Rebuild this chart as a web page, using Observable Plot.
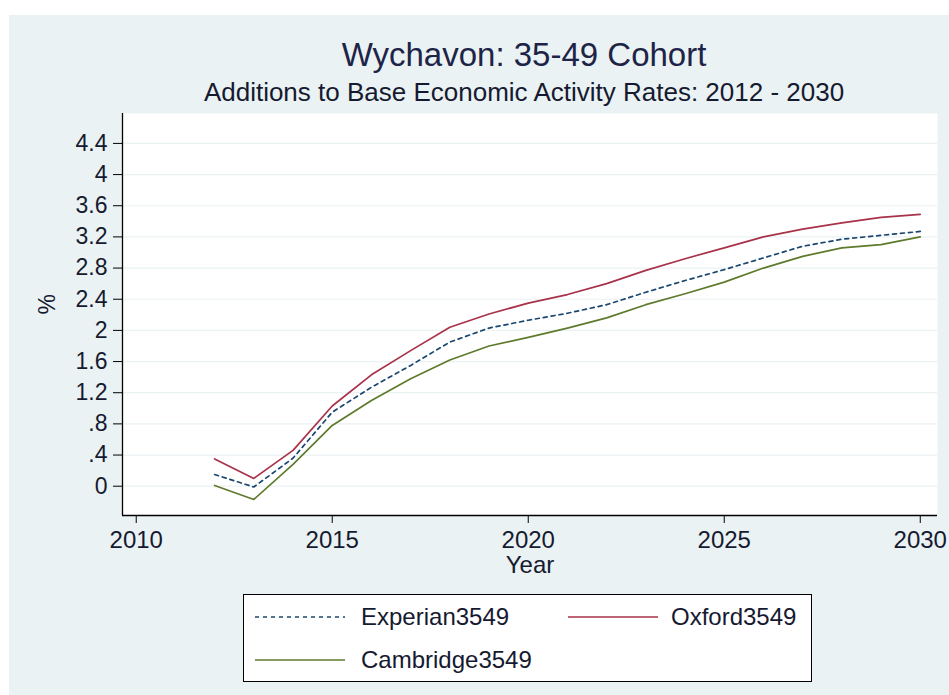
<!DOCTYPE html>
<html>
<head>
<meta charset="utf-8">
<script src="https://cdn.jsdelivr.net/npm/d3@7"></script>
<script src="https://cdn.jsdelivr.net/npm/@observablehq/plot@0.6"></script>
<style>
  html, body { margin: 0; padding: 0; background: #ffffff; }
  body { width: 949px; height: 695px; position: relative; overflow: hidden; font-family: "Liberation Sans", Arial, sans-serif; }
  #panel { position: absolute; left: 9px; top: 15px; width: 940px; height: 680px; background: #eaf2f3; }
  .ttl { position: absolute; text-align: center; color: #1e2448; white-space: nowrap; line-height: 1.15; }
  #title { top: 36px; left: 0; width: 1048px; font-size: 33px; }
  #subtitle { top: 78px; left: 0; width: 1048px; font-size: 26px; color: #161a30; }
  #chart { position: absolute; left: 0; top: 100px; }
  #legend { position: absolute; left: 243px; top: 594px; width: 567px; height: 86px; background: #fff; border: 1px solid #000; }
  .lg { position: absolute; font-size: 24px; color: #161a30; white-space: nowrap; line-height: 1.15; }
  .ls { position: absolute; }
</style>
</head>
<body>
<div id="panel"></div>
<div id="title" class="ttl">Wychavon: 35-49 Cohort</div>
<div id="subtitle" class="ttl">Additions to Base Economic Activity Rates: 2012 - 2030</div>
<div id="chart"></div>
<div id="legend"></div>
<script>
const years = [2012, 2013, 2014, 2015, 2016, 2017, 2018, 2019, 2020, 2021, 2022, 2023, 2024, 2025, 2026, 2027, 2028, 2029, 2030];
const experian3549 = [0.15, -0.01, 0.36, 0.95, 1.27, 1.55, 1.85, 2.03, 2.13, 2.22, 2.33, 2.49, 2.64, 2.78, 2.93, 3.08, 3.17, 3.22, 3.27];
const oxford3549 = [0.35, 0.10, 0.46, 1.03, 1.43, 1.74, 2.04, 2.21, 2.35, 2.46, 2.60, 2.77, 2.92, 3.06, 3.20, 3.30, 3.38, 3.45, 3.49];
const cambridge3549 = [0.01, -0.17, 0.28, 0.78, 1.10, 1.38, 1.62, 1.80, 1.91, 2.03, 2.16, 2.33, 2.47, 2.62, 2.80, 2.95, 3.06, 3.10, 3.20];
const seriesNames = ["Experian3549", "Oxford3549", "Cambridge3549"];
const seriesColors = ["#1a476f", "#a8324a", "#5f7a2c"];
const seriesDash = ["4,4", null, null];
const xTicks = [2010, 2015, 2020, 2025, 2030];
const yTicks = [0, 0.4, 0.8, 1.2, 1.6, 2, 2.4, 2.8, 3.2, 3.6, 4, 4.4];
const yTickLabels = ["0", ".4", ".8", "1.2", "1.6", "2", "2.4", "2.8", "3.2", "3.6", "4", "4.4"];

const seriesValues = [experian3549, oxford3549, cambridge3549];
const rows = [];
seriesNames.forEach((name, s) => years.forEach((yr, i) => rows.push({series: name, year: yr, value: seriesValues[s][i]})));

const xDomain = [2009.65, 2030.44];
const yDomain = [-0.376, 4.784];
const textColor = "#161a30";

const lineMarks = seriesNames.map((name, s) =>
  Plot.line(rows.filter(r => r.series === name), {
    x: "year", y: "value", stroke: seriesColors[s], strokeWidth: 1.7,
    strokeDasharray: seriesDash[s] || undefined
  })
);

const chart = Plot.plot({
  width: 949,
  height: 490,
  marginLeft: 122,
  marginRight: 12,
  marginTop: 13,
  marginBottom: 75,
  style: { background: "transparent", fontFamily: "'Liberation Sans', Arial, sans-serif", color: textColor, overflow: "visible" },
  x: { domain: xDomain },
  y: { domain: yDomain },
  marks: [
    Plot.frame({ fill: "#ffffff", stroke: null }),
    Plot.gridY(yTicks, { stroke: "#eaf2f3", strokeOpacity: 1, strokeWidth: 1.2 }),
    ...lineMarks,
    Plot.ruleX([xDomain[0]], { stroke: "#000", strokeWidth: 1.3 }),
    Plot.ruleY([yDomain[0]], { stroke: "#000", strokeWidth: 1.3 }),
    Plot.axisY(yTicks, { tickFormat: (d, i) => yTickLabels[i], tickSize: 9, tickPadding: 6, fontSize: 23, stroke: "#000", fill: textColor, label: null }),
    Plot.axisX(xTicks, { tickFormat: d => String(d), tickSize: 8, tickPadding: 7, fontSize: 24, stroke: "#000", fill: textColor, label: null }),
    Plot.text(["Year"], { frameAnchor: "bottom", dy: 57, fontSize: 24, fill: textColor }),
    Plot.text(["%"], { frameAnchor: "left", dx: -75, rotate: -90, fontSize: 23, fill: textColor })
  ]
});
document.getElementById("chart").appendChild(chart);

// legend
const legend = document.getElementById("legend");
const legendItems = [
  { s: 0, lx: 11, tx: 117, ty: 22 },
  { s: 1, lx: 324, tx: 427, ty: 22 },
  { s: 2, lx: 11, tx: 117, ty: 65 }
];
legendItems.forEach(it => {
  const svg = d3.create("svg").attr("class", "ls").attr("width", 92).attr("height", 6)
    .style("left", it.lx + "px").style("top", (it.ty - 3) + "px");
  svg.append("line").attr("x1", 0).attr("x2", 90).attr("y1", 3).attr("y2", 3)
    .attr("stroke", seriesColors[it.s]).attr("stroke-width", 1.7)
    .attr("stroke-dasharray", seriesDash[it.s]);
  legend.appendChild(svg.node());
  const t = document.createElement("div");
  t.className = "lg";
  t.textContent = seriesNames[it.s];
  t.style.left = it.tx + "px";
  t.style.top = (it.ty - 14) + "px";
  legend.appendChild(t);
});
</script>
</body>
</html>
